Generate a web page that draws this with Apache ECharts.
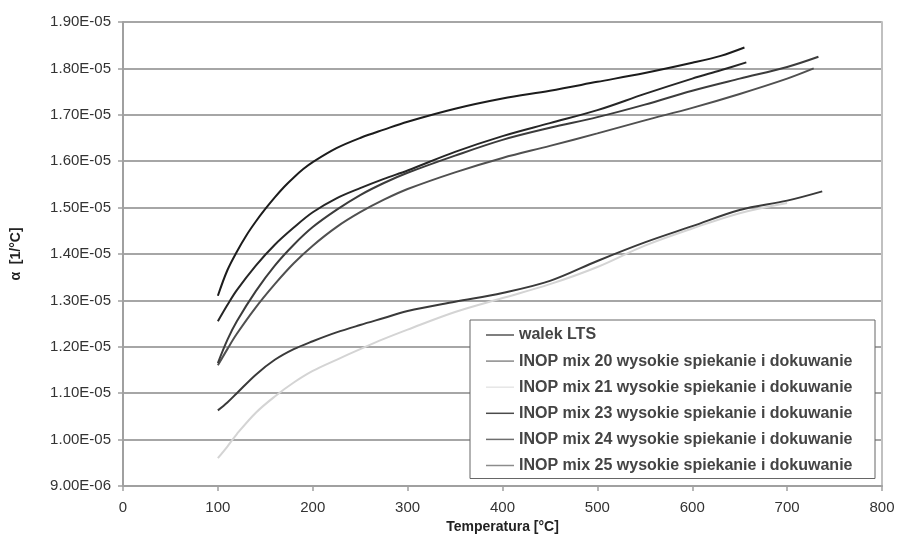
<!DOCTYPE html>
<html>
<head>
<meta charset="utf-8">
<script src="https://cdn.jsdelivr.net/npm/echarts@6/dist/echarts.min.js"></script>
<style>html,body{margin:0;padding:0;background:#fff}#c{width:899px;height:553px}</style>
</head>
<body>
<div id="c"></div>
<script>
// values in units of 1E-05 1/°C
var seriesNames = ['walek LTS','INOP mix 20 wysokie spiekanie i dokuwanie','INOP mix 21 wysokie spiekanie i dokuwanie','INOP mix 23 wysokie spiekanie i dokuwanie','INOP mix 24 wysokie spiekanie i dokuwanie','INOP mix 25 wysokie spiekanie i dokuwanie'];
var xTicks = [0,100,200,300,400,500,600,700,800];
var yTicks = [0.9,1.0,1.1,1.2,1.3,1.4,1.5,1.6,1.7,1.8,1.9];

var walekT = [100,110,120,140,160,180,200,225,250,275,300,350,400,450,500,550,600,650,700,737];
var walekV = [1.063,1.08,1.10,1.14,1.172,1.195,1.212,1.231,1.247,1.262,1.277,1.297,1.316,1.342,1.385,1.425,1.46,1.495,1.515,1.535];

var mix20T = [100,110,120,140,160,180,200,225,250,275,300,350,400,450,500,550,600,650,700,733];
var mix20V = [1.165,1.215,1.255,1.32,1.375,1.42,1.458,1.495,1.527,1.553,1.575,1.612,1.646,1.672,1.695,1.722,1.752,1.778,1.803,1.825];

var mix21T = [100,110,120,140,160,180,200,225,250,275,300,350,400,450,500,550,600,650,700];
var mix21V = [0.96,0.985,1.012,1.058,1.093,1.123,1.148,1.172,1.195,1.217,1.237,1.275,1.305,1.335,1.372,1.418,1.455,1.488,1.51];

var mix23T = [100,110,120,130,140,150,160,170,180,190,200,225,250,275,300,350,400,450,500,550,600,630,655];
var mix23V = [1.31,1.365,1.405,1.44,1.47,1.497,1.522,1.545,1.565,1.583,1.598,1.628,1.65,1.668,1.685,1.713,1.735,1.752,1.771,1.79,1.812,1.827,1.845];

var mix24T = [100,110,120,140,160,180,200,225,250,275,300,350,400,450,500,550,600,630,657];
var mix24V = [1.255,1.29,1.322,1.375,1.42,1.457,1.49,1.52,1.542,1.562,1.58,1.62,1.654,1.682,1.71,1.745,1.778,1.796,1.813];

var mix25T = [100,110,120,140,160,180,200,225,250,275,300,350,400,450,500,550,600,650,700,728];
var mix25V = [1.16,1.195,1.228,1.285,1.335,1.38,1.418,1.458,1.49,1.517,1.54,1.576,1.607,1.633,1.66,1.688,1.715,1.745,1.778,1.80];

var lineColors = ['#3a3a3a','#3c3c3c','#d4d4d4','#1c1c1c','#262626','#505050'];
var legendColors = ['#555555','#8a8a8a','#e6e6e6','#4a4a4a','#6e6e6e','#8c8c8c'];

function pairs(t, v){ var out=[]; for(var i=0;i<t.length;i++) out.push([t[i], v[i]]); return out; }
var allData = [pairs(walekT,walekV), pairs(mix20T,mix20V), pairs(mix21T,mix21V), pairs(mix23T,mix23V), pairs(mix24T,mix24V), pairs(mix25T,mix25V)];
// draw order: light first, darkest last
var drawOrder = [2,0,5,1,4,3];

function fmtY(v){
  var r = Math.round(v*100)/100;
  if (r < 1) return (r*10).toFixed(2) + 'E-06';
  return r.toFixed(2) + 'E-05';
}

var font = 'Arial, "Liberation Sans", sans-serif';
var series = [];
drawOrder.forEach(function(i){
  series.push({
    name: seriesNames[i], type: 'line', data: allData[i],
    smooth: 0.35, showSymbol: false, symbol: 'none',
    lineStyle: {color: lineColors[i], width: 2},
    itemStyle: {color: lineColors[i]},
    z: 3, animation: false
  });
});

var chart = echarts.init(document.getElementById('c'));
chart.setOption({
  animation: false,
  backgroundColor: '#ffffff',
  grid: {left: 123, right: 17, top: 22, bottom: 67},
  xAxis: {
    type: 'value', min: xTicks[0], max: xTicks[xTicks.length-1], interval: 100,
    name: 'Temperatura [°C]', nameLocation: 'middle', nameGap: 27,
    nameTextStyle: {fontFamily: font, fontSize: 14, fontWeight: 'bold', color: '#222'},
    axisLine: {show: true, lineStyle: {color: '#a0a0a0', width: 2}},
    axisTick: {show: true, inside: false, length: 5, lineStyle: {color: '#a0a0a0', width: 1.5}},
    axisLabel: {fontFamily: font, fontSize: 15, color: '#333', margin: 14},
    splitLine: {show: false}
  },
  yAxis: [{
    type: 'value', min: yTicks[0], max: yTicks[yTicks.length-1], interval: 0.1,
    name: 'α  [1/°C]', nameLocation: 'middle', nameGap: 100, nameRotate: 90,
    nameTextStyle: {fontFamily: font, fontSize: 14, fontWeight: 'bold', color: '#222'},
    axisLine: {show: true, lineStyle: {color: '#a0a0a0', width: 2}},
    axisTick: {show: true, length: 5, lineStyle: {color: '#a0a0a0', width: 1.5}},
    axisLabel: {fontFamily: font, fontSize: 15, color: '#333', margin: 12, formatter: fmtY},
    splitLine: {show: true, lineStyle: {color: '#a6a6a6', width: 2}}
  },{
    type: 'value', position: 'right', min: yTicks[0], max: yTicks[yTicks.length-1], interval: 0.1,
    axisLine: {show: true, lineStyle: {color: '#c0c0c0', width: 2}},
    axisTick: {show: false}, axisLabel: {show: false}, splitLine: {show: false}
  }],
  legend: {
    orient: 'vertical', left: 470, top: 320,
    data: seriesNames.map(function(n,i){ return {name: n, itemStyle: {color: legendColors[i]}}; }),
    icon: 'rect', itemWidth: 28, itemHeight: 1.5, itemGap: 10.1,
    padding: [7, 12, 5, 16],
    borderColor: '#666', borderWidth: 1, backgroundColor: '#fff',
    textStyle: {fontFamily: font, fontSize: 16, fontWeight: 'bold', color: '#444', lineHeight: 15, width: 344, overflow: 'none'},
    itemStyle: {borderWidth: 0},
    selectedMode: false
  },
  series: series
});
</script>
</body>
</html>
